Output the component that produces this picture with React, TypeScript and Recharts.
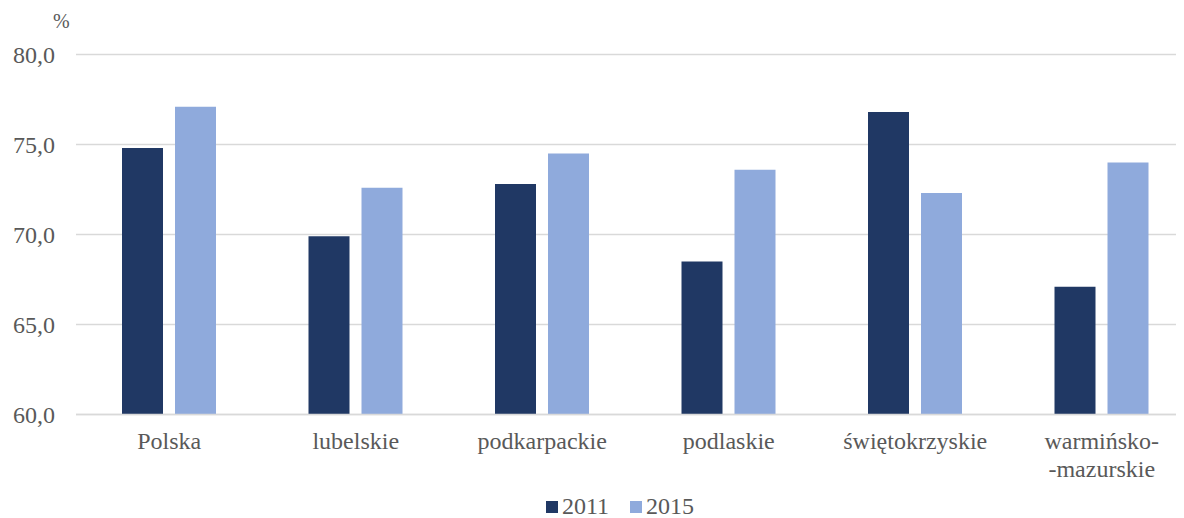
import React from 'react';
import { BarChart, Bar, XAxis, YAxis, CartesianGrid, Legend } from 'recharts';

const categories = ['Polska', 'lubelskie', 'podkarpackie', 'podlaskie', 'świętokrzyskie', 'warmińsko-\n-mazurskie'];
const values2011 = [74.8, 69.9, 72.8, 68.5, 76.8, 67.1];
const values2015 = [77.1, 72.6, 74.5, 73.6, 72.3, 74.0];
const yTicks = [60, 65, 70, 75, 80];
const seriesNames = ['2011', '2015'];
const colors = ['#203864', '#8faadc'];

const data = categories.map((c, i) => ({ name: c, s2011: values2011[i], s2015: values2015[i] }));

const FONT = "Liberation Serif, DejaVu Serif";
const TEXT = '#595959';

const CatTick = (props: any) => {
  const { x, y, payload } = props;
  const lines = String(payload.value).split('\n');
  return (
    <g>
      {lines.map((l, i) => (
        <text key={i} x={x} y={y + 26.5 + i * 28} textAnchor="middle" fill={TEXT} style={{ fontFamily: FONT }} fontSize={24}>
          {l}
        </text>
      ))}
    </g>
  );
};

const LegendContent = () => (
  <div style={{ display: 'flex', alignItems: 'center', fontFamily: FONT, fontSize: 24, lineHeight: 0.9, color: TEXT, paddingLeft: 538, marginTop: 11.5 }}>
    {seriesNames.map((n, i) => (
      <div key={n} style={{ display: 'flex', alignItems: 'center', marginRight: 21 }}>
        <span style={{ width: 12, height: 12, background: colors[i], display: 'inline-block', marginRight: 4 }} />
        <span>{n}</span>
      </div>
    ))}
  </div>
);

export default function App() {
  return (
    <div style={{ width: 1176, height: 510, overflow: 'hidden', position: 'relative' }}>
      <div style={{ position: 'absolute', left: 45, top: 2, fontFamily: FONT, fontSize: 20, color: TEXT }}>%</div>
      <BarChart width={1200} height={510} data={data} margin={{ top: 46.5, right: 13, left: 0, bottom: 0 }} barGap={12}>
        <CartesianGrid vertical={false} stroke="#d9d9d9" strokeWidth={1.5} />
        <XAxis dataKey="name" tick={<CatTick />} tickLine={false} axisLine={{ stroke: '#d9d9d9', strokeWidth: 1.5 }} height={70} interval={0} />
        <YAxis
          domain={[60, 80]}
          ticks={yTicks}
          width={68}
          axisLine={false}
          tickLine={false}
          tickMargin={15}
          tick={{ fill: TEXT, fontSize: 24, style: { fontFamily: FONT } }}
          tickFormatter={(v: number) => v.toFixed(1).replace('.', ',')}
        />
        <Legend verticalAlign="bottom" content={<LegendContent />} wrapperStyle={{ height: 33.5 }} />
        <Bar dataKey="s2011" name={seriesNames[0]} fill={colors[0]} barSize={41} isAnimationActive={false} />
        <Bar dataKey="s2015" name={seriesNames[1]} fill={colors[1]} barSize={41} isAnimationActive={false} />
      </BarChart>
    </div>
  );
}
